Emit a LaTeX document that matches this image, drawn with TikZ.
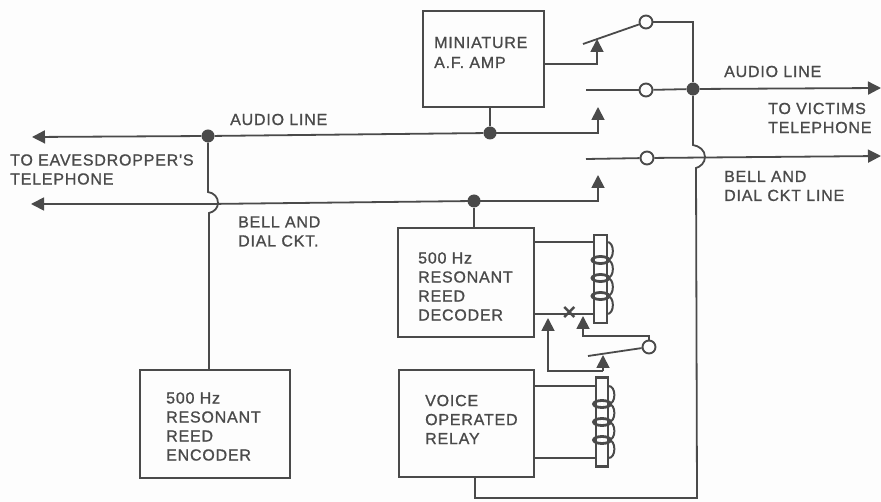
\documentclass[tikz,border=0pt]{standalone}
\usepackage{fontspec}
\setmainfont{Liberation Sans}
\newfontfamily\labfam{Liberation Sans}[FakeBold=1,LetterSpace=5]
\usetikzlibrary{arrows.meta}
\definecolor{ink}{HTML}{4A4A4A}
\definecolor{paper}{HTML}{FDFDFD}
\tikzset{
  wire/.style={draw=ink,line width=1.8pt,line join=miter},
  arrowed/.style={wire,-{Triangle[length=13pt,width=13pt]}},
  boxed/.style={draw=ink,line width=1.9pt,rectangle,inner sep=0pt,fill=paper},
  dot/.style={circle,fill=ink,inner sep=0pt,minimum size=13pt},
  contact/.style={circle,draw=ink,line width=1.9pt,fill=paper,inner sep=0pt,minimum size=13pt},
  lab/.style={text=ink,font=\labfam\fontsize{16}{19}\selectfont,align=left,anchor=west,inner sep=0pt},
  core/.style={draw=ink,line width=2.5pt,fill=paper,rectangle,inner sep=0pt},
  turn/.style={draw=ink,line width=2.8pt},
  winding/.style={draw=ink,line width=2pt}
}
\newcommand{\coil}[2]{%
  % #1 = node name of the core, #2 = y of first winding
  \foreach \k in {-1,0,1,2}{
    \draw[winding] ([xshift=6pt]#1.center |- 0,{#2+18*\k}) .. controls +(8.5pt,1pt) and +(8.5pt,-1pt) .. ([xshift=6pt]#1.center |- 0,{#2+18*\k+18});
  }
  \foreach \k in {0,1,2}{
    \draw[turn] (#1.center |- 0,{#2+18*\k}) ellipse [x radius=8.5pt,y radius=3.5pt];
  }
}
\begin{document}
\begin{tikzpicture}[x=1pt,y=-1pt]
\useasboundingbox[fill=paper] (0,0) rectangle (881,502);
% boxes
\node[boxed,minimum width=121pt,minimum height=96pt] (amp) at (483.5,59) {};
\node[boxed,minimum width=136pt,minimum height=109pt] (dec) at (466,282.5) {};
\node[boxed,minimum width=135pt,minimum height=107pt] (vor) at (466.5,423.5) {};
\node[boxed,minimum width=150pt,minimum height=108pt] (enc) at (215,424) {};
% junctions and contacts
\node[dot] (jleft) at (208,136) {};
\node[dot] (jamp) at (490,133) {};
\node[dot] (jbell) at (474,201) {};
\node[dot] (jright) at (693,89) {};
\node[contact] (c1) at (646,22) {};
\node[contact] (c2) at (646,90) {};
\node[contact] (c3) at (647,158) {};
\node[contact] (c4) at (649,347) {};
% free ends
\coordinate (eavA) at (32,137);
\coordinate (eavB) at (31,204);
\coordinate (tipA) at (598,107);
\coordinate (tipB) at (598,175);
\coordinate (tipC) at (597,39);
\coordinate (outA) at (881,88);
\coordinate (outB) at (881,156);
\coordinate (fixA) at (586,90);
\coordinate (fixB) at (586,159);
\coordinate (bladeA) at (583,44);
\coordinate (bladeB) at (588,356);
% lines
\draw[arrowed] (jleft) -- (eavA);
\draw[wire] (jleft) -- (jamp);
\draw[arrowed] (jamp.center) -| (tipA);
\draw[wire] (jamp) -- (amp.south -| jamp);
\draw[arrowed] (jbell.center) -- (eavB -| jleft) -- (eavB);
\draw[arrowed] (jbell.center) -- (598,201) -- (tipB);
\draw[wire] (jbell) -- (dec.north -| jbell);
% hop on left vertical
\draw[wire] (jleft) -- (208,192) .. controls (214,193) and (218,197) .. (218,203) .. controls (218,208) and (214,212) .. (209,213) -- (enc.north -| 209,0);
% amp to upper switch
\draw[arrowed] (amp.east |- 0,64) -| (tipC);
\draw[wire] (bladeA) -- (c1);
\draw[wire] (c1) -| (jright);
\draw[wire] (fixA) -- (c2);
\draw[wire] (c2) -- (jright);
\draw[arrowed] (jright) -- (outA);
\draw[wire] (fixB) -- (c3);
\draw[arrowed] (c3) -- (outB);
% right vertical with hop, returning to voice relay
\draw[wire] (jright) -- (693,145) .. controls (699,146) and (705,150) .. (705,157) .. controls (705,163) and (700,167) .. (696,168) -- (697,498) -- (475,498) -- (vor.south -| 475,0);
% relay coil 1
\node[core,minimum width=13pt,minimum height=88pt] (coreA) at (600.5,279) {};
\draw[wire] (dec.east |- 0,242) -- (coreA.west |- 0,242);
\draw[wire] (dec.east |- 0,314) -- (coreA.west |- 0,314);
\coil{coreA}{260}
\node[text=ink,font=\bfseries\fontsize{24}{24}\selectfont,inner sep=0pt] (xmark) at (569.5,314) {×};
% relay coil 2
\node[core,minimum width=12pt,minimum height=89pt] (coreB) at (602,422) {};
\draw[wire] (vor.east |- 0,386) -- (coreB.west |- 0,386);
\draw[wire] (vor.east |- 0,458) -- (coreB.west |- 0,458);
\coil{coreB}{404}
% relay contact
\draw[wire] (bladeB) -- (c4);
\draw[arrowed] (c4.north) -- (c4.north |- 0,336) -- (583,336) -- (583,316);
\draw[arrowed] (603,371) -- (548,371) -- (548,318);
\draw[arrowed] (603,371) -- (603,355);
% labels
\node[lab,font=\labfam\fontsize{16}{20}\selectfont] (t1) at (434,52.5) {MINIATURE\\A.F. AMP};
\node[lab] (t2) at (230,119.5) {AUDIO LINE};
\node[lab] (t3) at (10,169.5) {TO EAVESDROPPER'S\\TELEPHONE};
\node[lab] (t4) at (238,231.5) {BELL AND\\DIAL CKT.};
\node[lab] (t5) at (724,71.5) {AUDIO LINE};
\node[lab] (t6) at (768,118) {TO VICTIMS\\TELEPHONE};
\node[lab] (t7) at (724,186) {BELL AND\\DIAL CKT LINE};
\node[lab] (t8) at (418,286.5) {500 Hz\\RESONANT\\REED\\DECODER};
\node[lab] (t9) at (425,419.5) {VOICE\\OPERATED\\RELAY};
\node[lab] (t10) at (166,426.5) {500 Hz\\RESONANT\\REED\\ENCODER};
\end{tikzpicture}
\end{document}
